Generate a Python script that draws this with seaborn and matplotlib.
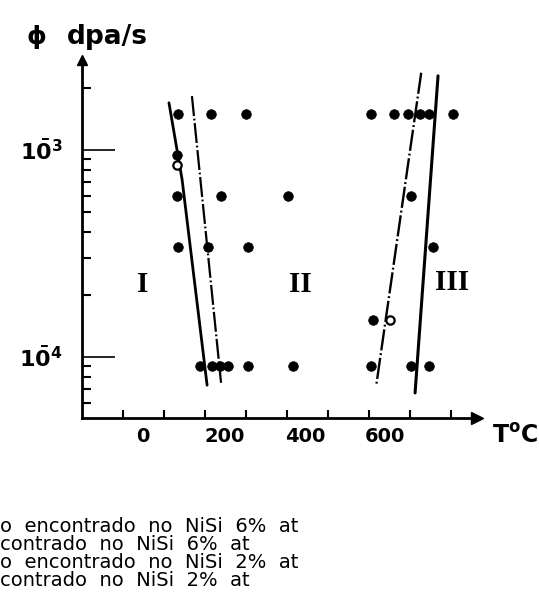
import matplotlib
matplotlib.use("Agg")
import matplotlib.pyplot as plt
import seaborn as sns
import pandas as pd
from matplotlib.ticker import FixedLocator, NullFormatter, LogLocator

sns.set_style("white")
plt.rcParams['font.family'] = ['DejaVu Sans']
plt.rcParams['text.color'] = 'black'
plt.rcParams['xtick.color'] = 'black'
plt.rcParams['ytick.color'] = 'black'
plt.rcParams['axes.edgecolor'] = 'black'

# ---------------- data ----------------
filled_temp = [35, 115, 200, 505, 560, 595, 625, 645, 705,
               32,
               32, 140, 302, 602,
               34, 107, 205, 655,
               510,
               88, 117, 137, 156, 205, 315, 505, 602, 645]
filled_rate = [1.5e-3, 1.5e-3, 1.5e-3, 1.5e-3, 1.5e-3, 1.5e-3, 1.5e-3, 1.5e-3, 1.5e-3,
               9.5e-4,
               6.0e-4, 6.0e-4, 6.0e-4, 6.0e-4,
               3.4e-4, 3.4e-4, 3.4e-4, 3.4e-4,
               1.5e-4,
               9.0e-5, 9.0e-5, 9.0e-5, 9.0e-5, 9.0e-5, 9.0e-5, 9.0e-5, 9.0e-5, 9.0e-5]
open_temp = [32, 551]
open_rate = [8.5e-4, 1.5e-4]

# boundary lines (temperature, rate)
solid_I_temp = [12, 44, 105]
solid_I_rate = [1.69e-3, 7.2e-4, 7.3e-5]
dash_I_temp = [68, 139]
dash_I_rate = [1.82e-3, 7.5e-5]
dash_III_temp = [627, 517]
dash_III_rate = [2.36e-3, 7.2e-5]
solid_III_temp = [668, 612]
solid_III_rate = [2.28e-3, 6.7e-5]

x_ticks = [-100, 0, 100, 200, 300, 400, 500, 600, 700]
x_labels = ["0", "200", "400", "600"]
x_label_pos = [-51, 149, 344, 539]
y_ticks = [1e-4, 1e-3]
y_labels = [r"$\mathbf{1\bar{0}^{4}}$", r"$\mathbf{1\bar{0}^{3}}$"]
regions = ["I", "II", "III"]
region_temp = [-51, 332, 702]
region_rate = [2.23e-4, 2.25e-4, 2.3e-4]
legend_lines = ["o  encontrado  no  NiSi  6%  at",
                "contrado  no  NiSi  6%  at",
                "o  encontrado  no  NiSi  2%  at",
                "contrado  no  NiSi  2%  at"]

# ---------------- figure ----------------
W, H = 539, 610
fig = plt.figure(figsize=(W / 100, H / 100), dpi=100)
ax = fig.add_axes([82 / W, 1 - 418 / H, (477 - 82) / W, (418 - 60) / H])

df_f = pd.DataFrame({"T": filled_temp, "r": filled_rate})
df_o = pd.DataFrame({"T": open_temp, "r": open_rate})

def line(tx, ry, lw, ls=None):
    d = pd.DataFrame({"T": tx, "r": ry})
    n0 = len(ax.lines)
    sns.lineplot(data=d, x="T", y="r", sort=False, estimator=None, ax=ax,
                 color="black", linewidth=lw)
    if ls is not None:
        for ln in ax.lines[n0:]:
            ln.set_linestyle(ls)

dashdot = (0, (9, 1.2, 0.8, 1.2))
line(solid_I_temp, solid_I_rate, 2.0)
line(solid_III_temp, solid_III_rate, 2.2)
line(dash_I_temp, dash_I_rate, 1.6, dashdot)
line(dash_III_temp, dash_III_rate, 1.7, dashdot)

sns.scatterplot(data=df_f, x="T", y="r", ax=ax, color="black", s=48,
                edgecolor="black", linewidth=0.5, zorder=5)
sns.scatterplot(data=df_o, x="T", y="r", ax=ax, color="white", s=36,
                edgecolor="black", linewidth=1.6, zorder=5)

ax.set_yscale("log")
ax.set_xlim(-200, 763)
ax.set_ylim(5.07e-5, 2.72e-3)

for s in ["top", "right"]:
    ax.spines[s].set_visible(False)
for s in ["left", "bottom"]:
    ax.spines[s].set_linewidth(2)
    ax.spines[s].set_color("black")

ax.xaxis.set_major_locator(FixedLocator(x_ticks))
ax.xaxis.set_major_formatter(NullFormatter())
ax.tick_params(axis="x", which="major", direction="in", length=6, width=1.5,
               color="black", bottom=True)

ax.yaxis.set_major_locator(FixedLocator(y_ticks))
ax.set_yticklabels(y_labels)
ax.yaxis.set_minor_locator(LogLocator(base=10, subs=range(2, 10)))
ax.yaxis.set_minor_formatter(NullFormatter())
ax.tick_params(axis="y", which="major", direction="in", length=24, width=1.2,
               pad=14, labelsize=16, color="black", labelcolor="black", left=True)
ax.tick_params(axis="y", which="minor", direction="in", length=6.5, width=1.5,
               color="black", left=True)
ax.set_xlabel("")
ax.set_ylabel("")

# arrows at axis ends
ax.plot([0], [1], marker="^", color="black", markersize=7,
        transform=ax.transAxes, clip_on=False)
ax.plot([1], [0], marker=">", color="black", markersize=8,
        transform=ax.transAxes, clip_on=False)

# x labels placed under axis
xt = ax.get_xaxis_transform()
for lab, pos in zip(x_labels, x_label_pos):
    ax.text(pos, -0.053, lab, transform=xt, ha="center", va="center",
            fontsize=14, fontweight="bold", color="black")

fig.text(515 / W, 1 - 436 / H, r"$\mathbf{T^{o}C}$", ha="center", va="center",
         fontsize=17, color="black")
fig.text(27 / W, 1 - 37 / H, "ϕ", ha="left", va="center", fontsize=18,
         fontweight="bold", color="black")
fig.text(67 / W, 1 - 37 / H, "dpa/s", ha="left", va="center", fontsize=19,
         fontweight="bold", color="black")

for lab, tx, ry in zip(regions, region_temp, region_rate):
    ax.text(tx, ry, lab, ha="center", va="center", fontsize=21,
            fontweight="bold", family="Liberation Serif", color="black")

for i, lab in enumerate(legend_lines):
    fig.text(0 / W, 1 - (527 + 18 * i) / H, lab, ha="left", va="center",
             fontsize=14, color="black")

fig.savefig("out.png", dpi=100)
